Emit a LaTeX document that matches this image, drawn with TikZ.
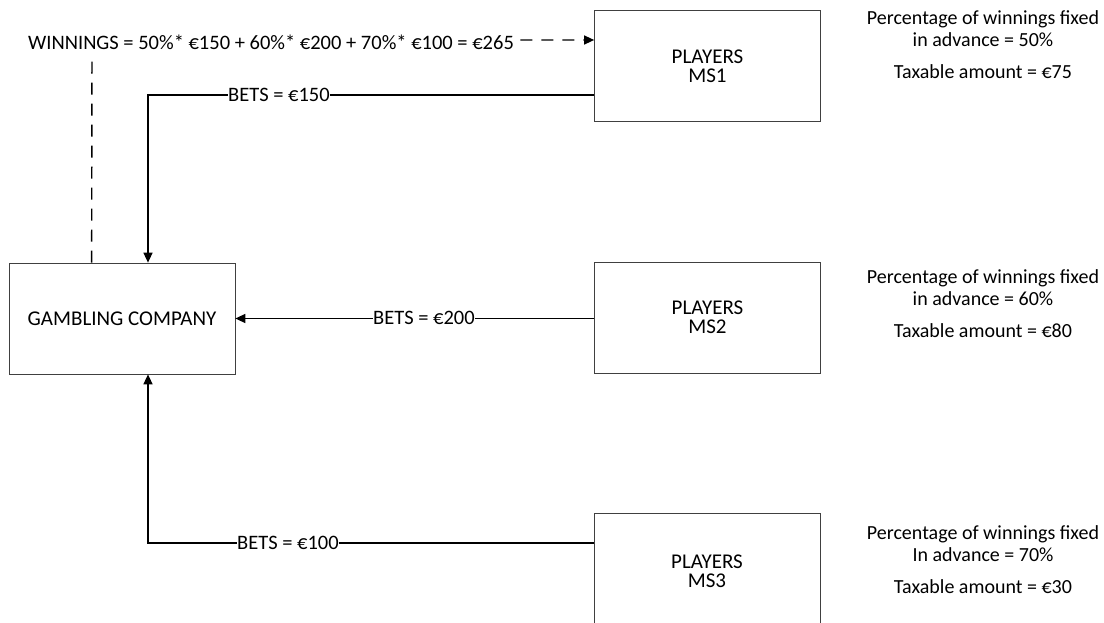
\documentclass[tikz,border=0pt]{standalone}
\usepackage{fontspec}
\setmainfont{Carlito}
\usetikzlibrary{arrows.meta,calc}
\begin{document}
\begin{tikzpicture}[x=1pt,y=-1pt,
  box/.style={draw=black!75,line width=0.7pt,minimum width=226pt,minimum height=111pt,inner sep=0pt,align=center,font=\fontsize{21}{19}\selectfont},
  flow/.style={line width=1.4pt,-{Triangle[length=10pt,width=9pt]}},
  dflow/.style={flow,dash pattern=on 12pt off 9pt},
  lbl/.style={fill=white,inner sep=0.5pt,font=\fontsize{20.5}{22}\selectfont},
  note/.style={align=center,font=\fontsize{20}{22}\selectfont}]
\useasboundingbox (0,0) rectangle (1104,623);
\fill[white] (0,0) rectangle (1104,623);
\node[box] (gc)  at (122,318.5) {GAMBLING COMPANY};
\node[box,text depth=-8pt] (ms1) at (707.5,66) {PLAYERS\\MS1};
\node[box] (ms2) at (707.5,317.5) {PLAYERS\\MS2};
\node[box,minimum height=116pt] (ms3) at (707,571) {PLAYERS\\MS3};
% notes
\node[note] (n1) at (983,29) {Percentage of winnings fixed\\in advance = 50\%};
\node[note] (t1) at (983,72) {Taxable amount = €75};
\node[note] (n2) at (983,288) {Percentage of winnings fixed\\in advance = 60\%};
\node[note] (t2) at (983,331) {Taxable amount = €80};
\node[note] (n3) at (983,544) {Percentage of winnings fixed\\In advance = 70\%};
\node[note] (t3) at (983,587) {Taxable amount = €30};
% connectors
\coordinate (w1) at (92,40);
\draw[dflow] ($(gc.north west)+(83,0)$) -- (w1) -- (ms1.west |- w1);
\node[lbl,inner ysep=5pt] (wl) at (271,42) {WINNINGS = 50\%* €150 + 60\%* €200 + 70\%* €100 = €265};
\coordinate (c1) at (148,95);
\draw[flow] (ms1.west |- c1) -- (c1) -- (c1 |- gc.north);
\node[lbl] (b1) at (279,95) {BETS = €150};
\draw[flow] (ms2.west |- gc.east) -- (gc.east);
\node[lbl] (b2) at (424,318) {BETS = €200};
\coordinate (c3) at (148,543);
\draw[flow] (ms3.west |- c3) -- (c3) -- (c3 |- gc.south);
\node[lbl] (b3) at (288,543) {BETS = €100};
\end{tikzpicture}
\end{document}
